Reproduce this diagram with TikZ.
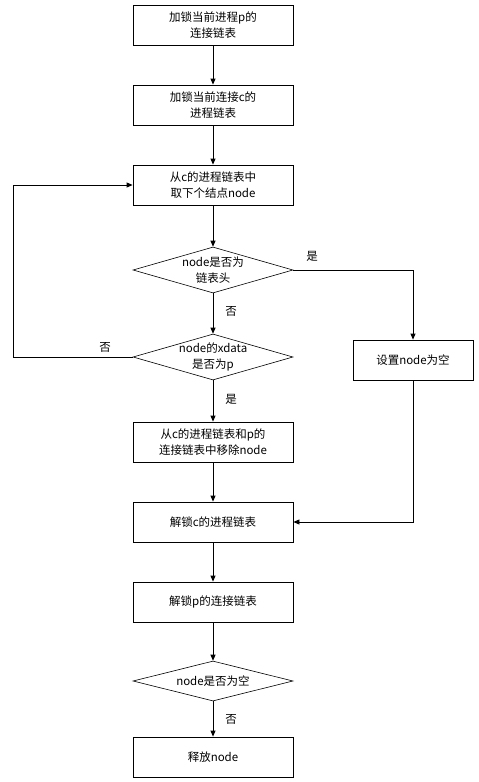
\documentclass[tikz,border=0pt]{standalone}
\usepackage{fontspec}
\setmainfont{Noto Sans CJK SC}
\usetikzlibrary{arrows.meta,shapes.geometric}
\begin{document}
\begin{tikzpicture}[x=1pt,y=-1pt,
  every node/.style={font=\fontsize{11.5}{15.5}\selectfont,align=center,inner sep=0pt},
  procbox/.style={draw,line width=0.8pt,minimum width=160pt,minimum height=40pt},
  sidebox/.style={draw,line width=0.8pt,minimum width=120pt,minimum height=40pt},
  decis/.style={draw,line width=0.6pt,diamond,aspect=3.5,minimum width=160pt,minimum height=46pt},
  flow/.style={line width=0.8pt,-{Triangle[length=6pt,width=5pt]}},
  lbl/.style={font=\fontsize{11.5}{14}\selectfont}]
\useasboundingbox (0,0) rectangle (479,782);
\node[procbox] (b1) at (213,25) {加锁当前进程p的\\连接链表};
\node[procbox] (b2) at (213,105) {加锁当前连接c的\\进程链表};
\node[procbox] (b3) at (213,185) {从c的进程链表中\\取下个结点node};
\node[decis] (d1) at (213,270) {};
\node (d1t) at (d1) {node是否为\\链表头};
\node[decis] (d2) at (213,357) {};
\node (d2t) at (d2) {node的xdata\\是否为p};
\node[sidebox] (s1) at (413,360) {设置node为空};
\node[procbox] (b4) at (213,442) {从c的进程链表和p的\\连接链表中移除node};
\node[procbox] (b5) at (213,522) {解锁c的进程链表};
\node[procbox] (b6) at (213,602) {解锁p的连接链表};
\node[decis,minimum height=40pt] (d3) at (213,681) {};
\node (d3t) at (d3) {node是否为空};
\node[procbox] (b7) at (213,757) {释放node};
\coordinate (lp) at (13,357);
\coordinate (rp) at (413,270);
\draw[flow] (b1) -- (b2);
\draw[flow] (b2) -- (b3);
\draw[flow] (b3) -- (d1);
\draw[flow] (d1) -- node[lbl,right=12pt,pos=0.45] {否} (d2);
\draw[flow] (d2.west) -- (lp) |- (b3.west);
\node[lbl] (no2) at (105,347) {否};
\draw[flow] (d1.east) -- (rp) -- (s1.north);
\node[lbl] (yes1) at (312,256) {是};
\draw[flow] (d2) -- node[lbl,right=12pt,pos=0.45] {是} (b4);
\draw[flow] (b4) -- (b5);
\draw[flow] (s1.south) |- (b5.east);
\draw[flow] (b5) -- (b6);
\draw[flow] (b6) -- (d3);
\draw[flow] (d3) -- node[lbl,right=12pt,pos=0.5] {否} (b7);
\end{tikzpicture}
\end{document}
